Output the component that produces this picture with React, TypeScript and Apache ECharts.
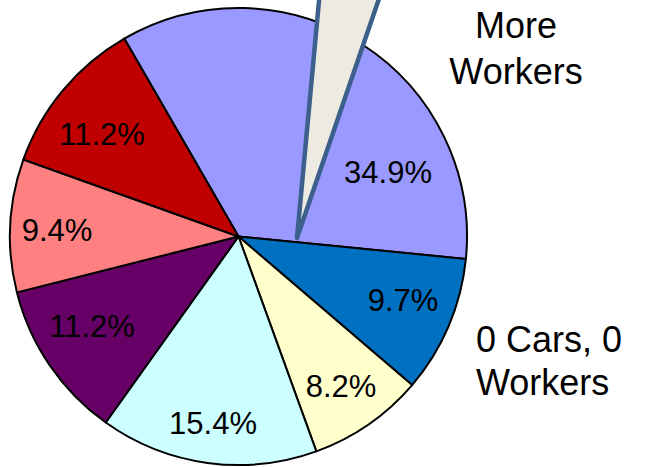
import React, { useEffect, useRef } from 'react';
import * as echarts from 'echarts';

// Slice data, clockwise from the top-left edge of the large lavender slice
const sliceNames = [
  '2 or More Workers',
  '0 Cars, 0 Workers',
  'Group 3',
  'Group 4',
  'Group 5',
  'Group 6',
  'Group 7',
];
const sliceValues = [34.9, 9.7, 8.2, 15.4, 11.2, 9.4, 11.2];
const sliceColors = ['#9999FF', '#0070C0', '#FFFFCC', '#CCFFFF', '#660066', '#FF8080', '#C00000'];

// Outer category labels (text only)
const outerLabels = ['More\nWorkers', '0 Cars, 0\nWorkers'];

// Layout (pixel positions / styles)
const CENTER: [number, number] = [238.5, 236.5];
const RADIUS = 228.5;
const START_ANGLE = 120;
const percentLabelPos: [number, number][] = [
  [388, 172],
  [403, 300],
  [341, 386],
  [213, 423],
  [92, 326],
  [57, 230],
  [102, 134],
];

export default function App() {
  const ref = useRef<HTMLDivElement>(null);

  useEffect(() => {
    if (!ref.current) return;
    const chart = echarts.init(ref.current, undefined, { renderer: 'svg' });
    const font = '"Liberation Sans", Arial, sans-serif';

    const option: any = {
      animation: false,
      backgroundColor: '#ffffff',
      series: [
        {
          type: 'pie',
          center: CENTER,
          radius: RADIUS,
          startAngle: START_ANGLE,
          clockwise: true,
          silent: true,
          emphasis: { disabled: true },
          itemStyle: { borderColor: '#000000', borderWidth: 2 },
          label: {
            show: true,
            position: 'inside',
            color: '#000000',
            fontFamily: font,
            fontSize: 31,
            formatter: (p: any) => p.value.toFixed(1) + '%',
          },
          labelLine: { show: false },
          labelLayout: (p: any) => {
            const pos = percentLabelPos[p.dataIndex];
            return { x: pos[0], y: pos[1], align: 'center', verticalAlign: 'middle', hideOverlap: false };
          },
          data: sliceNames.map((name, i) => ({
            name,
            value: sliceValues[i],
            itemStyle: { color: sliceColors[i] },
          })),
        },
      ],
      graphic: [
        {
          type: 'polygon',
          z: 100,
          silent: true,
          shape: {
            points: [
              [297, 238],
              [320, -10],
              [382, -10],
            ],
          },
          style: { fill: '#ECEAE1', stroke: '#3D5F8C', lineWidth: 4.5, lineJoin: 'round' },
        },
        {
          type: 'text',
          z: 100,
          x: 516,
          y: 48,
          style: {
            text: outerLabels[0],
            font: '36px ' + font,
            fill: '#000000',
            align: 'center',
            verticalAlign: 'middle',
            lineHeight: 46,
          },
        },
        {
          type: 'text',
          z: 100,
          x: 476,
          y: 361,
          style: {
            text: outerLabels[1],
            font: '36px ' + font,
            fill: '#000000',
            align: 'left',
            verticalAlign: 'middle',
            lineHeight: 43,
          },
        },
      ],
    };
    chart.setOption(option);
    return () => chart.dispose();
  }, []);

  return (
    <div
      ref={ref}
      style={{ position: 'fixed', left: 0, top: 0, width: 671, height: 467, background: '#fff' }}
    />
  );
}
